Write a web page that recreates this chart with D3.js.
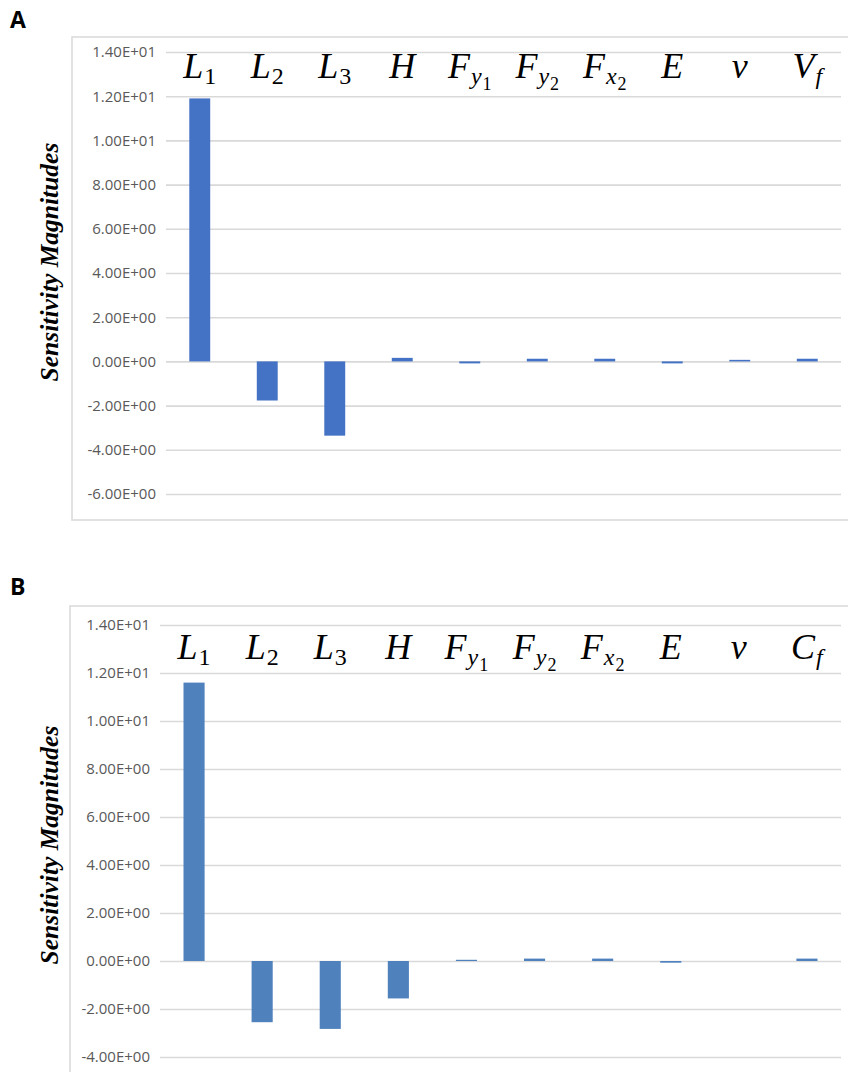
<!DOCTYPE html>
<html>
<head>
<meta charset="utf-8">
<script src="https://cdn.jsdelivr.net/npm/d3@7"></script>
<style>
  body { margin: 0; background: #fff; }
</style>
</head>
<body>
<svg id="chart" width="848" height="1072"></svg>
<script>
// categories, "_" marks a subscript level
const catsA = ["L_1", "L_2", "L_3", "H", "F_y_1", "F_y_2", "F_x_2", "E", "ν", "V_f"];
const catsB = ["L_1", "L_2", "L_3", "H", "F_y_1", "F_y_2", "F_x_2", "E", "ν", "C_f"];

// sensitivity values
const valuesA = [11.9, -1.77, -3.36, 0.16, -0.09, 0.12, 0.12, -0.09, 0.07, 0.12];
const valuesB = [11.6, -2.55, -2.83, -1.56, 0.05, 0.10, 0.10, -0.07, 0.0, 0.10];

const yTicks = [-6, -4, -2, 0, 2, 4, 6, 8, 10, 12, 14];
const yDomain = [-6, 14];
const yTitle = "Sensitivity Magnitudes";

const H = 1072;
const svg = d3.select("#chart");

// 1.40E+01 style
function sciFormat(d) {
    const s = d3.format(".2e")(d);
    const parts = s.split("e");
    const sign = parts[1][0];
    const exp = parts[1].slice(1).padStart(2, "0");
    return parts[0].replace("−", "-") + "E" + sign + exp;
}

function drawPanel(cfg, cats, values) {
    const g = svg.append("g");

    g.append("text")
        .attr("x", 10)
        .attr("y", cfg.letterY)
        .attr("font-family", "Open Sans, sans-serif")
        .attr("font-weight", "bold")
        .attr("font-size", 23)
        .text(cfg.letter);

    g.append("rect")
        .attr("x", cfg.box[0])
        .attr("y", cfg.box[1])
        .attr("width", cfg.box[2])
        .attr("height", cfg.box[3])
        .attr("fill", "none")
        .attr("stroke", "#d9d9d9")
        .attr("stroke-width", 1.5);

    const x = d3.scaleBand()
        .domain(cats)
        .range([cfg.left, cfg.right])
        .paddingInner(0.69)
        .paddingOuter(0.345);

    const y = d3.scaleLinear()
        .domain(yDomain)
        .range([cfg.bottom, cfg.top]);

    // only the ticks that fall inside the picture
    const shownTicks = yTicks.filter(t => y(t) < H - 10);

    const axis = g.append("g")
        .attr("transform", "translate(" + cfg.left + ",0)")
        .call(d3.axisLeft(y)
            .tickValues(shownTicks)
            .tickFormat(sciFormat)
            .tickSize(-(cfg.right - cfg.left))
            .tickPadding(10));
    axis.select(".domain").remove();
    axis.selectAll(".tick line")
        .attr("stroke", "#d9d9d9")
        .attr("stroke-width", 1.6);
    axis.selectAll(".tick text")
        .attr("fill", "#595959")
        .attr("font-family", "Open Sans, sans-serif")
        .attr("font-size", 15);

    g.selectAll(".bar")
        .data(values)
        .enter()
        .append("rect")
        .attr("class", "bar")
        .attr("x", (d, i) => x(cats[i]))
        .attr("width", x.bandwidth())
        .attr("y", d => y(Math.max(0, d)))
        .attr("height", d => Math.abs(y(d) - y(0)))
        .attr("fill", cfg.color);

    // category labels along the top of the plot
    const labels = g.selectAll(".cat")
        .data(cats)
        .enter()
        .append("text")
        .attr("class", "cat")
        .attr("x", d => x(d) + x.bandwidth() / 2)
        .attr("y", cfg.labelY)
        .attr("text-anchor", "middle")
        .attr("font-family", "Liberation Serif, serif");

    const sizes = [36, 24, 18];
    const shifts = [0, 6, 6];
    labels.each(function(d) {
        const t = d3.select(this);
        d.split("_").forEach((p, k) => {
            t.append("tspan")
                .attr("font-size", sizes[k])
                .attr("font-style", /\d/.test(p) ? "normal" : "italic")
                .attr("dy", shifts[k])
                .attr("dx", k > 0 ? 1 : 0)
                .text(p);
        });
    });

    g.append("text")
        .attr("transform", "translate(52," + cfg.titleY + ") rotate(-90)")
        .attr("text-anchor", "middle")
        .attr("dominant-baseline", "middle")
        .attr("font-family", "Liberation Serif, serif")
        .attr("font-weight", "bold")
        .attr("font-style", "italic")
        .attr("font-size", 25.5)
        .text(yTitle);
}

drawPanel({
    letter: "A", letterY: 28,
    box: [72, 37, 800, 483],
    left: 166, right: 841, top: 52, bottom: 494,
    labelY: 78, titleY: 262, color: "#4472C4"
}, catsA, valuesA);

drawPanel({
    letter: "B", letterY: 595,
    box: [70, 606, 800, 520],
    left: 160, right: 841, top: 625, bottom: 1105,
    labelY: 659, titleY: 845, color: "#4F81BD"
}, catsB, valuesB);
</script>
</body>
</html>
